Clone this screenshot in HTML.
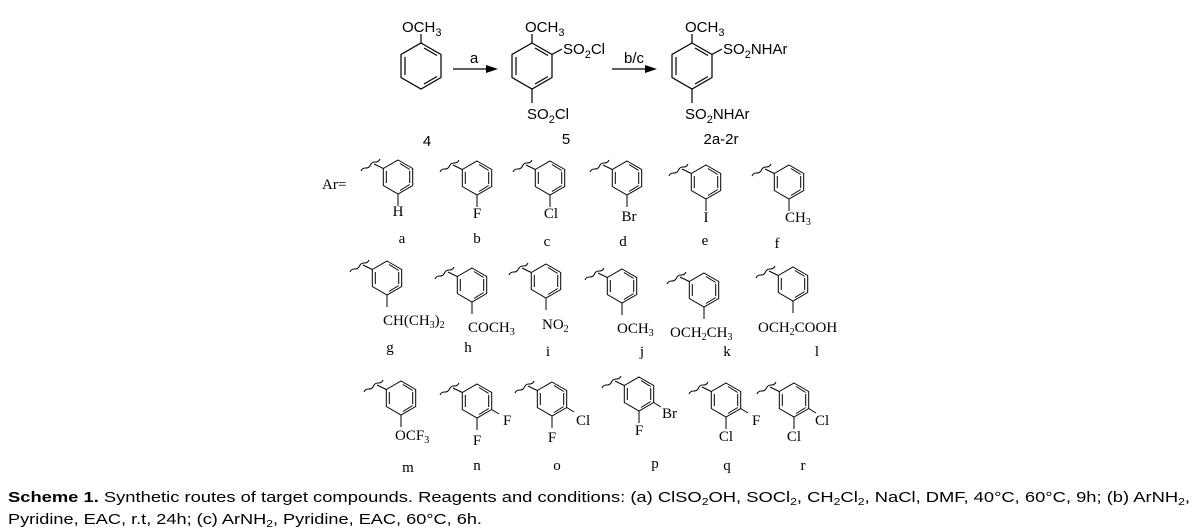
<!DOCTYPE html>
<html><head><meta charset="utf-8"><style>
html,body{margin:0;padding:0;background:#fff;}
svg{display:block;}
.s{font-family:"Liberation Sans",sans-serif;font-size:15px;fill:#000;}
.r{font-family:"Liberation Serif",serif;font-size:15px;fill:#000;}
.c{font-family:"Liberation Sans",sans-serif;font-size:15px;fill:#000;}
</style></head><body>
<svg width="1197" height="529" viewBox="0 0 1197 529" xmlns="http://www.w3.org/2000/svg">
<defs>
<g id="big" stroke="#000" stroke-width="1.2" fill="none">
<polygon points="0,-23 20,-11.5 20,11.5 0,23 -20,11.5 -20,-11.5"/>
<line x1="-16" y1="-9" x2="-16" y2="9"/>
<line x1="3" y1="-18" x2="16" y2="-10.5"/>
<line x1="3" y1="18" x2="16" y2="10.5"/>
</g>
<g id="sm" stroke="#000" stroke-width="1" fill="none">
<polygon points="0,-17 14.7,-8.5 14.7,8.5 0,17 -14.7,8.5 -14.7,-8.5"/>
<line x1="2" y1="-13.5" x2="11.7" y2="-7.5"/>
<line x1="11.7" y1="-6" x2="11.7" y2="6"/>
<line x1="-11.7" y1="-6" x2="-11.7" y2="6"/>
<line x1="2" y1="13.5" x2="11.7" y2="7.5"/>
<line x1="-14.7" y1="-8.5" x2="-24" y2="-13"/>
<path d="M-18,-18 q-1.4,3.2 -4.75,3 t-4.75,3 t-4.75,3 t-4.75,3"/>
</g>
<g id="m1" stroke="#000" stroke-width="1"><line x1="0" y1="17" x2="0" y2="29"/></g>
<g id="p1" stroke="#000" stroke-width="1"><line x1="14.7" y1="8.5" x2="22" y2="13"/></g>
</defs>

<!-- Top scheme -->
<use href="#big" x="421" y="66"/>
<line x1="421" y1="43" x2="421" y2="34" stroke="#000" stroke-width="1.2"/>
<text class="s" x="402" y="32">OCH<tspan font-size="11" dy="4">3</tspan></text>
<text class="s" x="427" y="146" text-anchor="middle">4</text>

<line x1="453" y1="69" x2="490" y2="69" stroke="#000" stroke-width="1.2"/>
<polygon points="498,69 486,65 486,73" fill="#000"/>
<text class="s" x="474" y="63" text-anchor="middle">a</text>

<use href="#big" x="532" y="66"/>
<line x1="532" y1="43" x2="532" y2="34" stroke="#000" stroke-width="1.2"/>
<text class="s" x="525" y="32">OCH<tspan font-size="11" dy="4">3</tspan></text>
<line x1="552" y1="54.5" x2="562" y2="49" stroke="#000" stroke-width="1.2"/>
<text class="s" x="563" y="54">SO<tspan font-size="11" dy="4">2</tspan><tspan dy="-4">Cl</tspan></text>
<line x1="532" y1="89" x2="532" y2="103" stroke="#000" stroke-width="1.2"/>
<text class="s" x="527" y="119">SO<tspan font-size="11" dy="4">2</tspan><tspan dy="-4">Cl</tspan></text>
<text class="s" x="566" y="144" text-anchor="middle">5</text>

<line x1="612" y1="69" x2="649" y2="69" stroke="#000" stroke-width="1.2"/>
<polygon points="657,69 645,65 645,73" fill="#000"/>
<text class="s" x="634" y="63" text-anchor="middle">b/c</text>

<use href="#big" x="692" y="66"/>
<line x1="692" y1="43" x2="692" y2="34" stroke="#000" stroke-width="1.2"/>
<text class="s" x="685" y="32">OCH<tspan font-size="11" dy="4">3</tspan></text>
<line x1="712" y1="54.5" x2="722" y2="49" stroke="#000" stroke-width="1.2"/>
<text class="s" x="723" y="54">SO<tspan font-size="11" dy="4">2</tspan><tspan dy="-4">NHAr</tspan></text>
<line x1="692" y1="89" x2="692" y2="103" stroke="#000" stroke-width="1.2"/>
<text class="s" x="685" y="119">SO<tspan font-size="11" dy="4">2</tspan><tspan dy="-4">NHAr</tspan></text>
<text class="s" x="721" y="144" text-anchor="middle">2a-2r</text>

<!-- Row 1 -->
<text class="r" x="322" y="189">Ar=</text>
<use href="#sm" x="398" y="177"/><use href="#m1" x="398" y="177"/>
<text class="r" x="398" y="216" text-anchor="middle">H</text>
<text class="r" x="402" y="243" text-anchor="middle">a</text>

<use href="#sm" x="477" y="178"/><use href="#m1" x="477" y="178"/>
<text class="r" x="477" y="218" text-anchor="middle">F</text>
<text class="r" x="477" y="243" text-anchor="middle">b</text>

<use href="#sm" x="550" y="178"/><use href="#m1" x="550" y="178"/>
<text class="r" x="551" y="218" text-anchor="middle">Cl</text>
<text class="r" x="547" y="246" text-anchor="middle">c</text>

<use href="#sm" x="627" y="178"/><use href="#m1" x="627" y="178"/>
<text class="r" x="629" y="221" text-anchor="middle">Br</text>
<text class="r" x="623" y="246" text-anchor="middle">d</text>

<use href="#sm" x="706" y="182"/><use href="#m1" x="706" y="182"/>
<text class="r" x="706" y="222" text-anchor="middle">I</text>
<text class="r" x="705" y="245" text-anchor="middle">e</text>

<use href="#sm" x="789" y="182"/><use href="#m1" x="789" y="182"/>
<text class="r" x="785" y="222">CH<tspan font-size="10" dy="3">3</tspan></text>
<text class="r" x="777" y="248" text-anchor="middle">f</text>

<!-- Row 2 -->
<use href="#sm" x="387" y="278"/><use href="#m1" x="387" y="278"/>
<text class="r" x="383" y="325">CH(CH<tspan font-size="10" dy="3">3</tspan><tspan dy="-3">)</tspan><tspan font-size="10" dy="3">2</tspan></text>
<text class="r" x="390" y="352" text-anchor="middle">g</text>

<use href="#sm" x="472" y="285"/><use href="#m1" x="472" y="285"/>
<text class="r" x="468" y="332">COCH<tspan font-size="10" dy="3">3</tspan></text>
<text class="r" x="468" y="352" text-anchor="middle">h</text>

<use href="#sm" x="546" y="281"/><use href="#m1" x="546" y="281"/>
<text class="r" x="542" y="329">NO<tspan font-size="10" dy="3">2</tspan></text>
<text class="r" x="548" y="356" text-anchor="middle">i</text>

<use href="#sm" x="622" y="286"/><use href="#m1" x="622" y="286"/>
<text class="r" x="617" y="333">OCH<tspan font-size="10" dy="3">3</tspan></text>
<text class="r" x="642" y="356" text-anchor="middle">j</text>

<use href="#sm" x="704" y="290"/><use href="#m1" x="704" y="290"/>
<text class="r" x="670" y="337">OCH<tspan font-size="10" dy="3">2</tspan><tspan dy="-3">CH</tspan><tspan font-size="10" dy="3">3</tspan></text>
<text class="r" x="727" y="356" text-anchor="middle">k</text>

<use href="#sm" x="793" y="284"/><use href="#m1" x="793" y="284"/>
<text class="r" x="758" y="332">OCH<tspan font-size="10" dy="3">2</tspan><tspan dy="-3">COOH</tspan></text>
<text class="r" x="817" y="356" text-anchor="middle">l</text>

<!-- Row 3 -->
<use href="#sm" x="401" y="398"/><use href="#m1" x="401" y="398"/>
<text class="r" x="395" y="440">OCF<tspan font-size="10" dy="3">3</tspan></text>
<text class="r" x="408" y="472" text-anchor="middle">m</text>

<use href="#sm" x="477" y="401"/><use href="#m1" x="477" y="401"/><use href="#p1" x="477" y="401"/>
<text class="r" x="477" y="445" text-anchor="middle">F</text>
<text class="r" x="503" y="425">F</text>
<text class="r" x="477" y="470" text-anchor="middle">n</text>

<use href="#sm" x="552" y="399"/><use href="#m1" x="552" y="399"/><use href="#p1" x="552" y="399"/>
<text class="r" x="552" y="442" text-anchor="middle">F</text>
<text class="r" x="576" y="425">Cl</text>
<text class="r" x="557" y="470" text-anchor="middle">o</text>

<use href="#sm" x="639" y="394"/><use href="#m1" x="639" y="394"/><use href="#p1" x="639" y="394"/>
<text class="r" x="639" y="435" text-anchor="middle">F</text>
<text class="r" x="662" y="418">Br</text>
<text class="r" x="655" y="468" text-anchor="middle">p</text>

<use href="#sm" x="726" y="400"/><use href="#m1" x="726" y="400"/><use href="#p1" x="726" y="400"/>
<text class="r" x="726" y="441" text-anchor="middle">Cl</text>
<text class="r" x="752" y="425">F</text>
<text class="r" x="727" y="470" text-anchor="middle">q</text>

<use href="#sm" x="794" y="400"/><use href="#m1" x="794" y="400"/><use href="#p1" x="794" y="400"/>
<text class="r" x="794" y="441" text-anchor="middle">Cl</text>
<text class="r" x="815" y="425">Cl</text>
<text class="r" x="803" y="470" text-anchor="middle">r</text>

<!-- Caption -->
<text class="c" x="8" y="502" textLength="1182" lengthAdjust="spacingAndGlyphs"><tspan font-weight="bold">Scheme 1.</tspan> Synthetic routes of target compounds. Reagents and conditions: (a) ClSO<tspan font-size="10" dy="3">2</tspan><tspan dy="-3">OH, SOCl</tspan><tspan font-size="10" dy="3">2</tspan><tspan dy="-3">, CH</tspan><tspan font-size="10" dy="3">2</tspan><tspan dy="-3">Cl</tspan><tspan font-size="10" dy="3">2</tspan><tspan dy="-3">, NaCl, DMF, 40°C, 60°C, 9h; (b) ArNH</tspan><tspan font-size="10" dy="3">2</tspan><tspan dy="-3">,</tspan></text>
<text class="c" x="8" y="524" textLength="474" lengthAdjust="spacingAndGlyphs">Pyridine, EAC, r.t, 24h; (c) ArNH<tspan font-size="10" dy="3">2</tspan><tspan dy="-3">, Pyridine, EAC, 60°C, 6h.</tspan></text>
</svg>
</body></html>
